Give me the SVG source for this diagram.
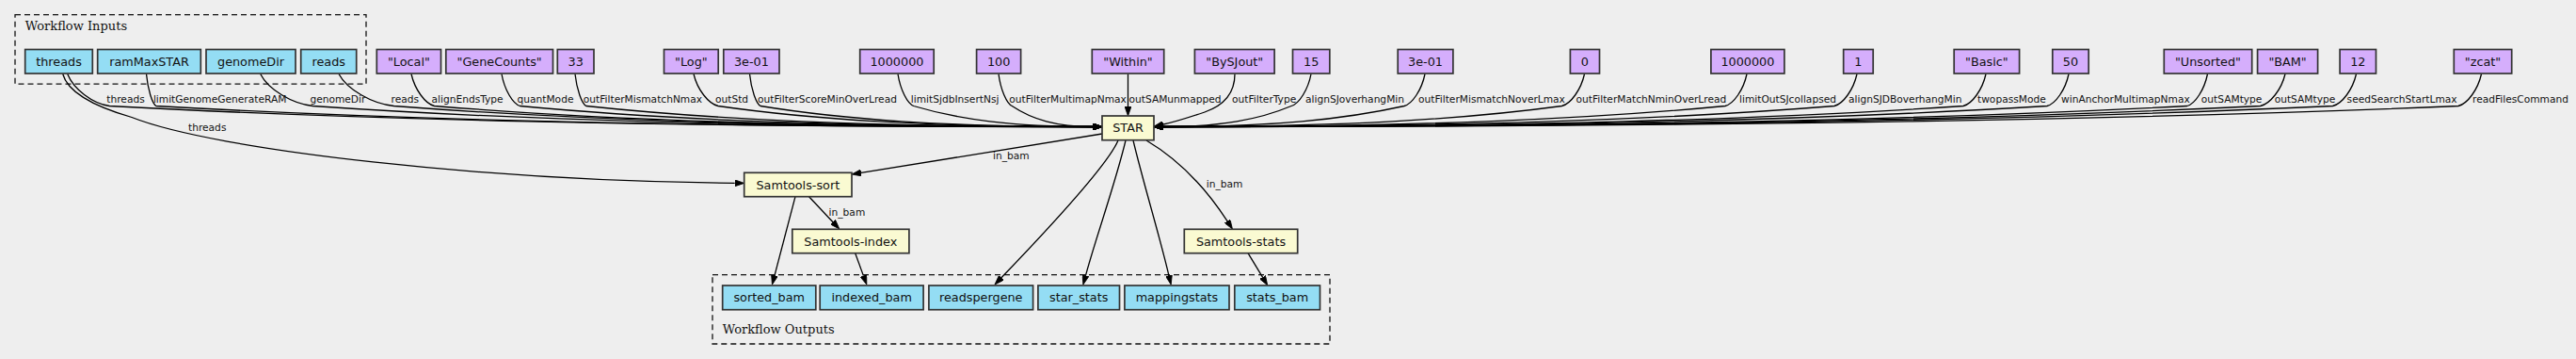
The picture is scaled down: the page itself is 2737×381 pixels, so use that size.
<svg xmlns="http://www.w3.org/2000/svg" width="2737" height="381" viewBox="0 0 2737 381">
<style>
.bg{fill:#eeeeee}
.cl{fill:none;stroke:#111;stroke-width:1.3;stroke-dasharray:6,4}
.clt{font-family:"DejaVu Serif","Liberation Serif",serif;font-size:13px;fill:#111}
rect.in{fill:#94ddf4;stroke:#333;stroke-width:1.7}
rect.val{fill:#d5aefc;stroke:#333;stroke-width:1.7}
rect.tool{fill:#fafad2;stroke:#333;stroke-width:1.7}
.nl{font-family:"DejaVu Sans","Liberation Sans",sans-serif;font-size:12.8px;fill:#111;text-anchor:middle}
.el{font-family:"DejaVu Sans","Liberation Sans",sans-serif;font-size:10.65px;fill:#111}
.e{fill:none;stroke:#000;stroke-width:1.3;marker-end:url(#ah)}
</style>
<defs>
<marker id="ah" viewBox="0 -3.5 10 7" refX="0" refY="0" markerWidth="10" markerHeight="7" markerUnits="userSpaceOnUse" orient="auto">
<path d="M0,-3.5 L10,0 L0,3.5 z" fill="#000" stroke="#000" stroke-width="0.8"/>
</marker>
</defs>
<rect class="bg" x="0" y="0" width="2737" height="381"/>

<g id="cluster-inputs">
<rect class="cl" x="16" y="15.7" width="373" height="73.5"/>
<text class="clt" x="26.8" y="31.5">Workflow Inputs</text>
</g>
<g id="cluster-outputs">
<rect class="cl" x="757" y="291.7" width="656" height="73.3"/>
<text class="clt" x="767.7" y="354">Workflow Outputs</text>
</g>

<g id="connectors">
<path class="e" d="M71.7,78.5 C78.4,95 98.5,110 116.3,112.5 C377.5,126.8 690.9,134.5 1161,134.5"/>
<path class="e" d="M155.5,78.5 C157.1,95 161.7,110 165.9,112.5 C414.7,126.8 713.2,134.5 1161,134.5"/>
<path class="e" d="M276.7,78.5 C285.1,95 310.1,110 332.4,112.5 C539.6,126.8 788.1,134.5 1161,134.5"/>
<path class="e" d="M360,78.5 C368.8,95 395.1,110 418.5,112.5 C604.1,126.8 826.9,134.5 1161,134.5"/>
<path class="e" d="M437,78.5 C440.7,95 451.7,110 461.5,112.5 C636.4,126.8 846.2,134.5 1161,134.5"/>
<path class="e" d="M533,78.5 C535.9,95 544.7,110 552.5,112.5 C704.6,126.8 887.2,134.5 1161,134.5"/>
<path class="e" d="M611,78.5 C612.8,95 618.1,110 622.8,112.5 C757.4,126.8 918.8,134.5 1161,134.5"/>
<path class="e" d="M737,78.5 C740.9,95 752.6,110 763,112.5 C862.5,126.8 981.9,134.5 1161,134.5"/>
<path class="e" d="M796.5,78.5 C798.2,95 803.4,110 808,112.5 C896.3,126.8 1002.2,134.5 1161,134.5"/>
<path class="e" d="M954,78.5 C956.5,95 964.1,110 970.8,112.5 C1018.4,126.8 1075.4,134.5 1161,134.5"/>
<path class="e" d="M1061,78.5 C1063.1,95 1069.6,110 1075.3,112.5 C1096.7,126.8 1122.4,134.5 1161,134.5"/>
<path class="e" d="M1198.5,78.5 L1198.5,113"/>
<path class="e" d="M1312,78.5 C1312,100 1300,112 1280,119 C1265,124 1250,129 1236,132"/>
<path class="e" d="M1393,78.5 C1389.9,95 1380.4,110 1372,112.5 C1338,126.8 1297.2,134.5 1236,134.5"/>
<path class="e" d="M1514,78.5 C1510.7,95 1500.8,110 1492,112.5 C1428,126.8 1351.2,134.5 1236,134.5"/>
<path class="e" d="M1683.5,78.5 C1679.9,95 1669.1,110 1659.5,112.5 C1553.6,126.8 1426.6,134.5 1236,134.5"/>
<path class="e" d="M1856,78.5 C1852.6,95 1842.2,110 1833,112.5 C1683.7,126.8 1504.6,134.5 1236,134.5"/>
<path class="e" d="M1973,78.5 C1969.4,95 1958.6,110 1949,112.5 C1770.7,126.8 1556.8,134.5 1236,134.5"/>
<path class="e" d="M2110,78.5 C2106.4,95 2095.6,110 2086,112.5 C1873.5,126.8 1618.5,134.5 1236,134.5"/>
<path class="e" d="M2198,78.5 C2194.6,95 2184.2,110 2175,112.5 C1940.2,126.8 1658.5,134.5 1236,134.5"/>
<path class="e" d="M2345.5,78.5 C2342.2,95 2332.5,110 2323.8,112.5 C2051.8,126.8 1725.5,134.5 1236,134.5"/>
<path class="e" d="M2428,78.5 C2424.1,95 2412.2,110 2401.7,112.5 C2110.3,126.8 1760.6,134.5 1236,134.5"/>
<path class="e" d="M2503.5,78.5 C2499.8,95 2488.6,110 2478.6,112.5 C2167.9,126.8 1795.2,134.5 1236,134.5"/>
<path class="e" d="M2636.5,78.5 C2632.8,95 2621.8,110 2612,112.5 C2268,126.8 1855.2,134.5 1236,134.5"/>
<path class="e" d="M66.7,78.5 C72,98 100,113 140,124.5 C230,160 520,192 780.7,194.3"/>
<path class="e" d="M1171,142 L914.9,183.4"/>
<path class="e" d="M1188,149 C1175,180 1091.5,266 1063.9,294.8"/>
<path class="e" d="M1196,149 C1185,195 1165,250 1153.5,292.4"/>
<path class="e" d="M1204,149 C1215,195 1232,250 1241.9,292.3"/>
<path class="e" d="M1218,149 C1245,165 1275,190 1304,234.7"/>
<path class="e" d="M845,208.7 L823,292.3"/>
<path class="e" d="M859.6,208.7 L885,235.7"/>
<path class="e" d="M908.7,268.7 L917.4,292.6"/>
<path class="e" d="M1326,268.7 L1341.5,294.2"/>
<text class="el" x="113.3" y="108.5">threads</text>
<text class="el" x="162.9" y="108.5">limitGenomeGenerateRAM</text>
<text class="el" x="329.4" y="108.5">genomeDir</text>
<text class="el" x="415.5" y="108.5">reads</text>
<text class="el" x="458.5" y="108.5">alignEndsType</text>
<text class="el" x="549.5" y="108.5">quantMode</text>
<text class="el" x="619.8" y="108.5">outFilterMismatchNmax</text>
<text class="el" x="760" y="108.5">outStd</text>
<text class="el" x="805" y="108.5">outFilterScoreMinOverLread</text>
<text class="el" x="967.8" y="108.5">limitSjdbInsertNsj</text>
<text class="el" x="1072.3" y="108.5">outFilterMultimapNmax</text>
<text class="el" x="1199.5" y="108.5">outSAMunmapped</text>
<text class="el" x="1309" y="108.5">outFilterType</text>
<text class="el" x="1387" y="108.5">alignSJoverhangMin</text>
<text class="el" x="1507" y="108.5">outFilterMismatchNoverLmax</text>
<text class="el" x="1674.5" y="108.5">outFilterMatchNminOverLread</text>
<text class="el" x="1848" y="108.5">limitOutSJcollapsed</text>
<text class="el" x="1964" y="108.5">alignSJDBoverhangMin</text>
<text class="el" x="2101" y="108.5">twopassMode</text>
<text class="el" x="2190" y="108.5">winAnchorMultimapNmax</text>
<text class="el" x="2338.8" y="108.5">outSAMtype</text>
<text class="el" x="2416.7" y="108.5">outSAMtype</text>
<text class="el" x="2493.6" y="108.5">seedSearchStartLmax</text>
<text class="el" x="2627" y="108.5">readFilesCommand</text>
<text class="el" x="200" y="138.5">threads</text>
<text class="el" x="1055" y="168.5">in_bam</text>
<text class="el" x="880.6" y="228.5">in_bam</text>
<text class="el" x="1281.7" y="198.5">in_bam</text>
</g>

<g id="threads"><rect class="in" x="26.7" y="52.5" width="71.6" height="25.5"/><text class="nl" x="62.5" y="69.8">threads</text></g>
<g id="ramMaxSTAR"><rect class="in" x="103.7" y="52.5" width="109.6" height="25.5"/><text class="nl" x="158.5" y="69.8">ramMaxSTAR</text></g>
<g id="genomeDir"><rect class="in" x="219" y="52.5" width="95" height="25.5"/><text class="nl" x="266.5" y="69.8">genomeDir</text></g>
<g id="reads"><rect class="in" x="319.7" y="52.5" width="59" height="25.5"/><text class="nl" x="349.2" y="69.8">reads</text></g>

<g id="v-alignEndsType"><rect class="val" x="400.3" y="52.5" width="68.2" height="25.5"/><text class="nl" x="434.4" y="69.8">"Local"</text></g>
<g id="v-quantMode"><rect class="val" x="473.8" y="52.5" width="113.7" height="25.5"/><text class="nl" x="530.65" y="69.8">"GeneCounts"</text></g>
<g id="v-outFilterMismatchNmax"><rect class="val" x="592.3" y="52.5" width="38.7" height="25.5"/><text class="nl" x="611.65" y="69.8">33</text></g>
<g id="v-outStd"><rect class="val" x="705.5" y="52.5" width="57.7" height="25.5"/><text class="nl" x="734.35" y="69.8">"Log"</text></g>
<g id="v-outFilterScoreMinOverLread"><rect class="val" x="768.8" y="52.5" width="59.2" height="25.5"/><text class="nl" x="798.4" y="69.8">3e-01</text></g>
<g id="v-limitSjdbInsertNsj"><rect class="val" x="913.7" y="52.5" width="78.5" height="25.5"/><text class="nl" x="952.95" y="69.8">1000000</text></g>
<g id="v-outFilterMultimapNmax"><rect class="val" x="1037.6" y="52.5" width="47" height="25.5"/><text class="nl" x="1061.1" y="69.8">100</text></g>
<g id="v-outSAMunmapped"><rect class="val" x="1160.3" y="52.5" width="76.4" height="25.5"/><text class="nl" x="1198.5" y="69.8">"Within"</text></g>
<g id="v-outFilterType"><rect class="val" x="1269.4" y="52.5" width="84.7" height="25.5"/><text class="nl" x="1311.75" y="69.8">"BySJout"</text></g>
<g id="v-alignSJoverhangMin"><rect class="val" x="1373.5" y="52.5" width="39.3" height="25.5"/><text class="nl" x="1393.15" y="69.8">15</text></g>
<g id="v-outFilterMismatchNoverLmax"><rect class="val" x="1485.2" y="52.5" width="58.7" height="25.5"/><text class="nl" x="1514.55" y="69.8">3e-01</text></g>
<g id="v-outFilterMatchNminOverLread"><rect class="val" x="1668.4" y="52.5" width="31.1" height="25.5"/><text class="nl" x="1683.95" y="69.8">0</text></g>
<g id="v-limitOutSJcollapsed"><rect class="val" x="1817.9" y="52.5" width="78" height="25.5"/><text class="nl" x="1856.9" y="69.8">1000000</text></g>
<g id="v-alignSJDBoverhangMin"><rect class="val" x="1958.7" y="52.5" width="31.5" height="25.5"/><text class="nl" x="1974.45" y="69.8">1</text></g>
<g id="v-twopassMode"><rect class="val" x="2076.2" y="52.5" width="69.4" height="25.5"/><text class="nl" x="2110.9" y="69.8">"Basic"</text></g>
<g id="v-winAnchorMultimapNmax"><rect class="val" x="2180.8" y="52.5" width="38.4" height="25.5"/><text class="nl" x="2200" y="69.8">50</text></g>
<g id="v-outSAMtype-1"><rect class="val" x="2299.3" y="52.5" width="93.4" height="25.5"/><text class="nl" x="2346" y="69.8">"Unsorted"</text></g>
<g id="v-outSAMtype-2"><rect class="val" x="2398.6" y="52.5" width="64" height="25.5"/><text class="nl" x="2430.6" y="69.8">"BAM"</text></g>
<g id="v-seedSearchStartLmax"><rect class="val" x="2486.1" y="52.5" width="38.4" height="25.5"/><text class="nl" x="2505.3" y="69.8">12</text></g>
<g id="v-readFilesCommand"><rect class="val" x="2607.3" y="52.5" width="61.4" height="25.5"/><text class="nl" x="2638" y="69.8">"zcat"</text></g>

<g id="STAR"><rect class="tool" x="1171" y="123" width="55" height="25.7"/><text class="nl" x="1198.5" y="140.4">STAR</text></g>
<g id="Samtools-sort"><rect class="tool" x="790.7" y="183.3" width="114.3" height="25.4"/><text class="nl" x="847.85" y="200.5">Samtools-sort</text></g>
<g id="Samtools-index"><rect class="tool" x="841.8" y="243.3" width="124.1" height="25.4"/><text class="nl" x="903.85" y="260.5">Samtools-index</text></g>
<g id="Samtools-stats"><rect class="tool" x="1258.3" y="243.3" width="120.4" height="25.4"/><text class="nl" x="1318.5" y="260.5">Samtools-stats</text></g>

<g id="sorted_bam"><rect class="in" x="767.7" y="303" width="99.1" height="25.7"/><text class="nl" x="817.25" y="320.3">sorted_bam</text></g>
<g id="indexed_bam"><rect class="in" x="871.2" y="303" width="109.9" height="25.7"/><text class="nl" x="926.15" y="320.3">indexed_bam</text></g>
<g id="readspergene"><rect class="in" x="986.9" y="303" width="110.7" height="25.7"/><text class="nl" x="1042.25" y="320.3">readspergene</text></g>
<g id="star_stats"><rect class="in" x="1102.9" y="303" width="86.6" height="25.7"/><text class="nl" x="1146.2" y="320.3">star_stats</text></g>
<g id="mappingstats"><rect class="in" x="1194.9" y="303" width="111.1" height="25.7"/><text class="nl" x="1250.45" y="320.3">mappingstats</text></g>
<g id="stats_bam"><rect class="in" x="1311.8" y="303" width="90.7" height="25.7"/><text class="nl" x="1357.15" y="320.3">stats_bam</text></g>
</svg>
